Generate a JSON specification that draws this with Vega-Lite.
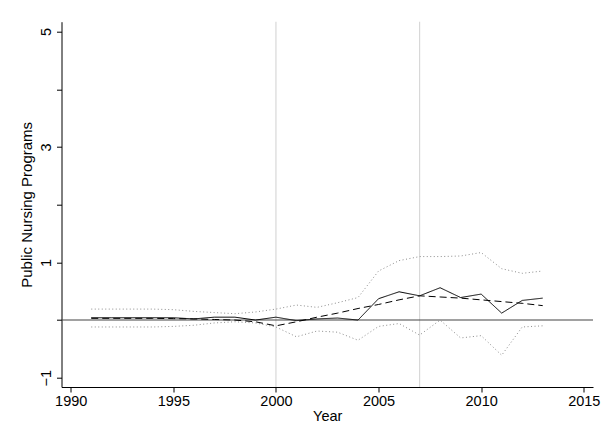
{
  "$schema": "https://vega.github.io/schema/vega-lite/v6.json",
  "width": 531.5,
  "height": 365.3,
  "autosize": "none",
  "padding": {"left": 61.5, "top": 21.7, "right": 9, "bottom": 58},
  "background": "white",
  "config": {
    "view": {"stroke": null},
    "font": "Liberation Sans",
    "axis": {"grid": false, "domainColor": "black", "tickColor": "black", "labelColor": "black", "titleColor": "black", "labelFont": "Liberation Sans", "titleFont": "Liberation Sans", "labelFontSize": 14.5, "titleFontSize": 14.5, "titleFontWeight": "normal", "tickSize": 5, "domainWidth": 1, "tickWidth": 1}
  },
  "datasets": {
    "series": [
      {"year": 1991, "series": "est", "value": 0.04},
      {"year": 1992, "series": "est", "value": 0.04},
      {"year": 1993, "series": "est", "value": 0.04},
      {"year": 1994, "series": "est", "value": 0.04},
      {"year": 1995, "series": "est", "value": 0.04},
      {"year": 1996, "series": "est", "value": 0.02},
      {"year": 1997, "series": "est", "value": 0.05},
      {"year": 1998, "series": "est", "value": 0.05},
      {"year": 1999, "series": "est", "value": 0.0},
      {"year": 2000, "series": "est", "value": 0.05},
      {"year": 2001, "series": "est", "value": -0.01},
      {"year": 2002, "series": "est", "value": 0.02},
      {"year": 2003, "series": "est", "value": 0.035},
      {"year": 2004, "series": "est", "value": 0.0},
      {"year": 2005, "series": "est", "value": 0.37},
      {"year": 2006, "series": "est", "value": 0.49},
      {"year": 2007, "series": "est", "value": 0.42},
      {"year": 2008, "series": "est", "value": 0.56},
      {"year": 2009, "series": "est", "value": 0.39},
      {"year": 2010, "series": "est", "value": 0.45},
      {"year": 2011, "series": "est", "value": 0.12},
      {"year": 2012, "series": "est", "value": 0.34},
      {"year": 2013, "series": "est", "value": 0.38},
      {"year": 1991, "series": "fit", "value": 0.03},
      {"year": 1992, "series": "fit", "value": 0.03},
      {"year": 1993, "series": "fit", "value": 0.03},
      {"year": 1994, "series": "fit", "value": 0.03},
      {"year": 1995, "series": "fit", "value": 0.025},
      {"year": 1996, "series": "fit", "value": 0.02},
      {"year": 1997, "series": "fit", "value": 0.01},
      {"year": 1998, "series": "fit", "value": 0.0},
      {"year": 1999, "series": "fit", "value": -0.03},
      {"year": 2000, "series": "fit", "value": -0.10},
      {"year": 2001, "series": "fit", "value": -0.03},
      {"year": 2002, "series": "fit", "value": 0.05},
      {"year": 2003, "series": "fit", "value": 0.12},
      {"year": 2004, "series": "fit", "value": 0.2},
      {"year": 2005, "series": "fit", "value": 0.27},
      {"year": 2006, "series": "fit", "value": 0.35},
      {"year": 2007, "series": "fit", "value": 0.42},
      {"year": 2008, "series": "fit", "value": 0.40},
      {"year": 2009, "series": "fit", "value": 0.38},
      {"year": 2010, "series": "fit", "value": 0.35},
      {"year": 2011, "series": "fit", "value": 0.32},
      {"year": 2012, "series": "fit", "value": 0.29},
      {"year": 2013, "series": "fit", "value": 0.25},
      {"year": 1991, "series": "upper", "value": 0.19},
      {"year": 1992, "series": "upper", "value": 0.19},
      {"year": 1993, "series": "upper", "value": 0.19},
      {"year": 1994, "series": "upper", "value": 0.19},
      {"year": 1995, "series": "upper", "value": 0.18},
      {"year": 1996, "series": "upper", "value": 0.15},
      {"year": 1997, "series": "upper", "value": 0.13},
      {"year": 1998, "series": "upper", "value": 0.11},
      {"year": 1999, "series": "upper", "value": 0.14},
      {"year": 2000, "series": "upper", "value": 0.19},
      {"year": 2001, "series": "upper", "value": 0.26},
      {"year": 2002, "series": "upper", "value": 0.22},
      {"year": 2003, "series": "upper", "value": 0.30},
      {"year": 2004, "series": "upper", "value": 0.39},
      {"year": 2005, "series": "upper", "value": 0.85},
      {"year": 2006, "series": "upper", "value": 1.03},
      {"year": 2007, "series": "upper", "value": 1.10},
      {"year": 2008, "series": "upper", "value": 1.10},
      {"year": 2009, "series": "upper", "value": 1.11},
      {"year": 2010, "series": "upper", "value": 1.17},
      {"year": 2011, "series": "upper", "value": 0.89},
      {"year": 2012, "series": "upper", "value": 0.81},
      {"year": 2013, "series": "upper", "value": 0.85},
      {"year": 1991, "series": "lower", "value": -0.12},
      {"year": 1992, "series": "lower", "value": -0.12},
      {"year": 1993, "series": "lower", "value": -0.12},
      {"year": 1994, "series": "lower", "value": -0.12},
      {"year": 1995, "series": "lower", "value": -0.11},
      {"year": 1996, "series": "lower", "value": -0.09},
      {"year": 1997, "series": "lower", "value": -0.05},
      {"year": 1998, "series": "lower", "value": -0.03},
      {"year": 1999, "series": "lower", "value": -0.05},
      {"year": 2000, "series": "lower", "value": -0.12},
      {"year": 2001, "series": "lower", "value": -0.29},
      {"year": 2002, "series": "lower", "value": -0.19},
      {"year": 2003, "series": "lower", "value": -0.21},
      {"year": 2004, "series": "lower", "value": -0.35},
      {"year": 2005, "series": "lower", "value": -0.11},
      {"year": 2006, "series": "lower", "value": -0.06},
      {"year": 2007, "series": "lower", "value": -0.26},
      {"year": 2008, "series": "lower", "value": 0.0},
      {"year": 2009, "series": "lower", "value": -0.31},
      {"year": 2010, "series": "lower", "value": -0.27},
      {"year": 2011, "series": "lower", "value": -0.61},
      {"year": 2012, "series": "lower", "value": -0.12},
      {"year": 2013, "series": "lower", "value": -0.10}
    ]
  },
  "layer": [
    {
      "data": {"values": [{"year": 2000}, {"year": 2007}]},
      "mark": {"type": "rule", "color": "#d8d8d8", "strokeWidth": 1.2},
      "encoding": {
        "x": {"field": "year", "type": "quantitative", "scale": {"domain": [1989.55, 2015.45], "nice": false, "zero": false},
              "axis": {"values": [1990, 1995, 2000, 2005, 2010, 2015], "format": "d", "title": "Year", "labelPadding": 2, "titlePadding": 2}}
      }
    },
    {
      "data": {"values": [{"v": 0}]},
      "mark": {"type": "rule", "color": "#444444", "strokeWidth": 1.1},
      "encoding": {
        "y": {"field": "v", "type": "quantitative"}
      }
    },
    {
      "data": {"name": "series"},
      "mark": {"type": "line", "interpolate": "linear"},
      "encoding": {
        "x": {"field": "year", "type": "quantitative"},
        "y": {"field": "value", "type": "quantitative", "scale": {"domain": [-1.16, 5.17], "nice": false, "zero": false},
              "axis": {"values": [-1, 0, 1, 2, 3, 4, 5], "format": "d", "labelExpr": "datum.value % 2 == 0 ? '' : datum.label", "labelAngle": -90, "labelAlign": "center", "labelBaseline": "bottom", "labelPadding": 3, "title": "Public Nursing Programs", "titleFontSize": 15, "titlePadding": 4}},
        "color": {"field": "series", "type": "nominal", "legend": null,
                  "scale": {"domain": ["upper", "lower", "fit", "est"], "range": ["#8c8c8c", "#8c8c8c", "#000000", "#000000"]}},
        "strokeDash": {"field": "series", "type": "nominal", "legend": null,
                  "scale": {"domain": ["upper", "lower", "fit", "est"], "range": [[1, 2.5], [1, 2.5], [7, 4], [1, 0]]}},
        "strokeWidth": {"field": "series", "type": "nominal", "legend": null,
                  "scale": {"domain": ["upper", "lower", "fit", "est"], "range": [1, 1, 1.6, 1.6]}},
        "order": {"field": "year", "type": "quantitative"}
      }
    }
  ]
}
